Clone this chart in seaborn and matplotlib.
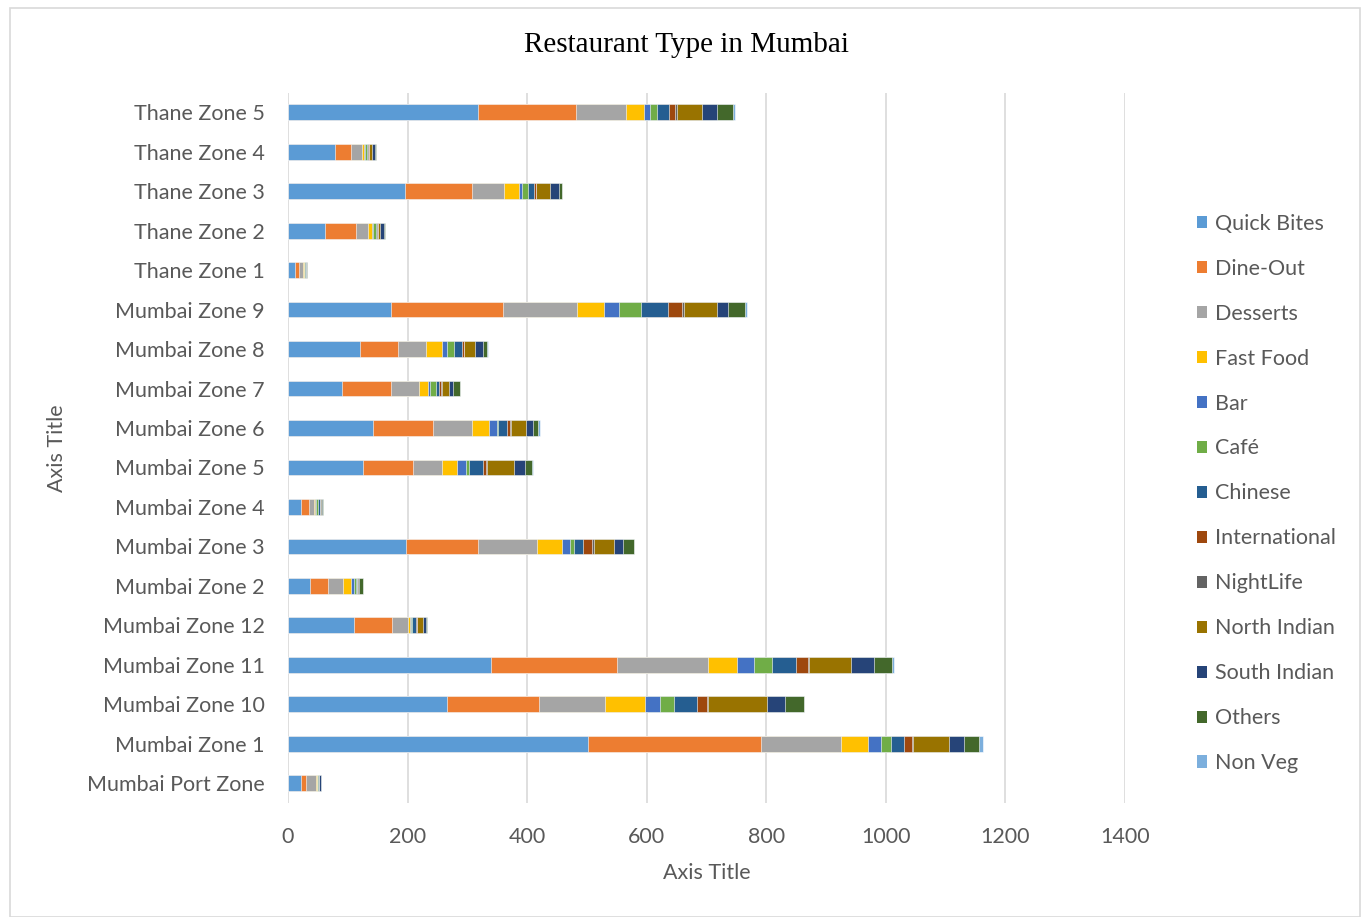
import numpy as np
import matplotlib
matplotlib.use("Agg")
import matplotlib.pyplot as plt
from matplotlib.patches import Patch, Rectangle
import seaborn as sns

# Zones, listed top to bottom as they appear on the chart
zones = ["Thane Zone 5", "Thane Zone 4", "Thane Zone 3", "Thane Zone 2", "Thane Zone 1",
         "Mumbai Zone 9", "Mumbai Zone 8", "Mumbai Zone 7", "Mumbai Zone 6", "Mumbai Zone 5",
         "Mumbai Zone 4", "Mumbai Zone 3", "Mumbai Zone 2", "Mumbai Zone 12", "Mumbai Zone 11",
         "Mumbai Zone 10", "Mumbai Zone 1", "Mumbai Port Zone"]

types = ["Quick Bites", "Dine-Out", "Desserts", "Fast Food", "Bar", "Café", "Chinese",
         "International", "NightLife", "North Indian", "South Indian", "Others", "Non Veg"]

quick_bites   = [317, 79, 196, 62, 12, 173, 120, 91, 142, 125, 22, 198, 37, 111, 340, 266, 501, 21]
dine_out      = [165, 27, 111, 52, 7, 186, 64, 82, 101, 84, 13, 119, 30, 63, 211, 153, 290, 9]
desserts      = [84, 18, 54, 20, 6, 124, 47, 46, 64, 48, 8, 99, 25, 27, 152, 112, 134, 16]
fast_food     = [29, 3, 25, 7, 1, 45, 27, 16, 30, 25, 2, 42, 13, 3, 48, 66, 45, 2]
bar           = [11, 2, 5, 2, 1, 25, 8, 3, 12, 15, 2, 13, 6, 2, 28, 25, 22, 1]
cafe          = [11, 3, 10, 4, 1, 37, 12, 10, 3, 6, 4, 8, 2, 1, 31, 23, 16, 1]
chinese       = [20, 2, 11, 2, 2, 46, 13, 5, 15, 24, 2, 14, 2, 7, 39, 39, 23, 2]
international = [11, 1, 2, 1, 0, 23, 3, 3, 5, 5, 1, 16, 1, 1, 20, 16, 12, 0]
nightlife     = [2, 1, 1, 0, 0, 3, 1, 1, 1, 1, 0, 2, 0, 0, 2, 3, 2, 0]
north_indian  = [42, 5, 24, 4, 0, 56, 18, 13, 25, 45, 1, 35, 1, 10, 70, 99, 61, 0]
south_indian  = [26, 5, 14, 7, 0, 18, 13, 6, 11, 18, 2, 15, 2, 5, 40, 29, 25, 3]
others        = [27, 2, 5, 1, 1, 28, 7, 12, 9, 12, 1, 17, 6, 2, 30, 32, 25, 1]
non_veg       = [2, 0, 1, 0, 0, 4, 1, 0, 3, 2, 0, 0, 0, 0, 2, 0, 7, 0]

series = [quick_bites, dine_out, desserts, fast_food, bar, cafe, chinese,
          international, nightlife, north_indian, south_indian, others, non_veg]

colors = ["#5B9BD5", "#ED7D31", "#A5A5A5", "#FFC000", "#4472C4", "#70AD47", "#255E91",
          "#9E480E", "#636363", "#997300", "#264478", "#43682B", "#7CAFDD"]

sns.set_theme(style="white")
plt.rcParams["font.family"] = ["Lato", "DejaVu Sans"]

fig = plt.figure(figsize=(13.67, 9.17), dpi=100)
ax = fig.add_axes([288 / 1367, 1 - 803 / 917, (1125 - 288) / 1367, (803 - 92.5) / 917])

# Stack by overlaying cumulative totals, widest first
cum = np.cumsum(np.array(series, dtype=float), axis=0)
for i in reversed(range(len(types))):
    sns.barplot(x=cum[i], y=zones, orient="h", color=colors[i], width=0.4,
                saturation=1, ax=ax, edgecolor="white", linewidth=0.4)

ax.set_xlim(0, 1400)
ax.set_xticks(np.arange(0, 1401, 200))
ax.grid(axis="x", color="#D9D9D9", linewidth=1.2)
ax.grid(axis="y", visible=False)
ax.set_axisbelow(True)
for s in ax.spines.values():
    s.set_visible(False)
ax.tick_params(axis="both", length=0, labelsize=15.5, colors="#595959")
ax.tick_params(axis="y", pad=17)
ax.tick_params(axis="x", pad=17)
ax.set_xlabel("Axis Title", fontsize=15.5, color="#595959", labelpad=12)
ax.set_ylabel("Axis Title", fontsize=15.5, color="#595959", labelpad=14)

fig.text(686 / 1367, 1 - 45 / 917, "Restaurant Type in Mumbai", ha="center", va="center",
         fontsize=21, family="Liberation Serif", color="black")

handles = [Patch(facecolor=c, edgecolor="none") for c in colors]
fig.legend(handles, types, loc="upper left", bbox_to_anchor=(1188 / 1367, 1 - 205 / 917),
           frameon=False, fontsize=15.5, handlelength=0.5, handleheight=0.5,
           handletextpad=0.35, labelspacing=1.16, labelcolor="#595959", borderaxespad=0)

fig.patches.append(Rectangle((10 / 1367, 0.0), 1350 / 1367, 1 - 8 / 917,
                             transform=fig.transFigure, fill=False,
                             edgecolor="#D9D9D9", linewidth=1.2))

fig.savefig("out.png", dpi=100, facecolor="white")
